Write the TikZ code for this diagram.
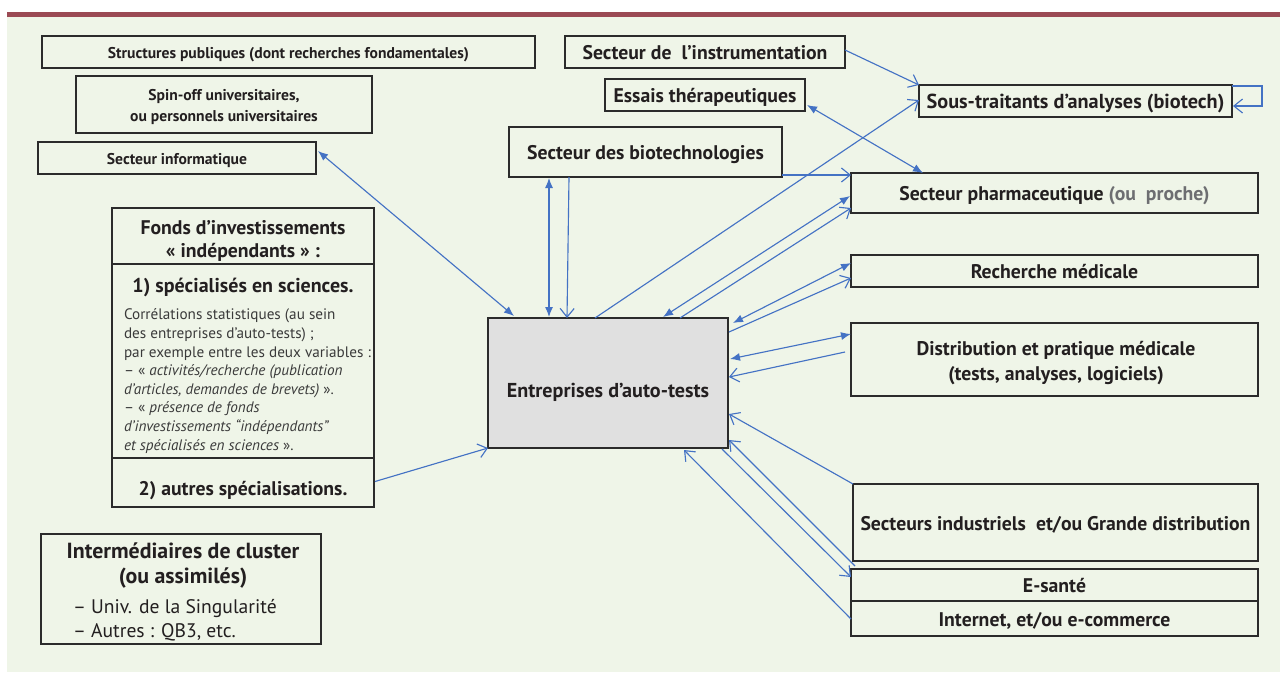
\documentclass[tikz,border=0pt]{standalone}
\usepackage{fontspec}
\setmainfont{PT Sans}
\usetikzlibrary{arrows.meta,calc}
\definecolor{bg}{HTML}{EFF5E8}
\definecolor{barc}{HTML}{9B4A54}
\definecolor{boxc}{HTML}{2B2B2B}
\definecolor{textc}{HTML}{231F20}
\definecolor{arr}{HTML}{4472C4}
\definecolor{entf}{HTML}{E0E0E0}
\definecolor{graytxt}{HTML}{6D6E71}
\definecolor{bodyc}{HTML}{3A3A3A}
\newcommand\fntsmall{\bfseries\fontsize{11.7}{14}\selectfont}
\newcommand\fntmain{\bfseries\fontsize{14.8}{18}\selectfont}
\newcommand\fntbig{\bfseries\fontsize{16.4}{19}\selectfont}
\newcommand\fntbody{\fontsize{11.4}{13.95}\selectfont}
\newcommand\fntlist{\fontsize{14.7}{18}\selectfont}
\tikzset{
  box/.style={draw=boxc, line width=1.1pt, inner sep=0pt, outer sep=0pt,
    text=textc, align=center, font=\fntmain},
  one/.style={text height=11.5pt, text depth=0pt},
  onesmall/.style={text height=9pt, text depth=0pt},
  sz/.style 2 args={minimum width=#1*0.75pt, minimum height=#2*0.75pt},
  lbl/.style={inner sep=0pt, outer sep=0pt, text=textc, align=center},
  fa/.style={draw=arr, line width=0.85pt, {Latex[length=7.5pt,width=6pt]}-{Latex[length=7.5pt,width=6pt]}},
  oa/.style={draw=arr, line width=0.85pt, -{Straight Barb[length=6.5pt,width=10.5pt]}}
}
\begin{document}
\begin{tikzpicture}[x=0.75pt,y=-0.75pt]
\useasboundingbox (0,0) rectangle (1280,675);
\fill[white] (0,0) rectangle (1280,675);
\fill[bg] (7,17) rectangle (1280,672);
\fill[barc] (7,12) rectangle (1280,17);

% left column
\node[box,onesmall,sz={493}{32},font=\fntsmall] (sp) at (288.5,52) {Structures publiques (dont recherches fondamentales)};
\node[box,sz={296}{57}] (spin) at (224,104.5) {};
\node[lbl,anchor=base,font=\fntsmall] (spin1) at (224,100) {Spin-off universitaires,};
\node[lbl,anchor=base,font=\fntsmall] (spin2) at (224,121) {ou personnels universitaires};
\node[box,onesmall,sz={278}{32},font=\fntsmall] (info) at (177,158) {Secteur informatique};

\node[box,sz={262}{56}] (fh) at (243,236) {};
\node[lbl,anchor=base,font=\fntmain] (fh1) at (243,234) {Fonds d'investissements};
\node[lbl,anchor=base,font=\fntmain] (fh2) at (243,257) {« indépendants » :};
\node[box,sz={262}{194}] (f1) at (243,361) {};
\node[box,sz={262}{49},text height=20pt,text depth=0pt] (f2) at (243,482.5) {2) autres spécialisations.};
\node[lbl,anchor=base,font=\bfseries\fontsize{15}{18}\selectfont] (f1t) at (243,292) {1) spécialisés en sciences.};
\node[lbl,anchor=north west,align=left,font=\fntbody,text=bodyc] (f1b) at (124,309) {Corrélations statistiques (au sein\\
des entreprises d'auto-tests) ;\\
par exemple entre les deux variables :\\
– « \textit{activités/recherche (publication}\\
\textit{d'articles, demandes de brevets)} ».\\
– « \textit{présence de fonds}\\
\textit{d'investissements “indépendants”}\\
\textit{et spécialisés en sciences} ».};

\node[box,sz={280}{110}] (inter) at (181,589) {};
\node[lbl,anchor=base,font=\fntbig] (inter1) at (183,558) {Intermédiaires de cluster};
\node[lbl,anchor=base,font=\fntbig] (inter2) at (183,583) {(ou assimilés)};
\node[lbl,anchor=base west,font=\fntlist] (inter3) at (73,613) {– Univ. de la Singularité};
\node[lbl,anchor=base west,font=\fntlist] (inter4) at (73,637) {– Autres : QB3, etc.};

% centre
\node[box,sz={240}{130},fill=entf,text height=21pt,text depth=0pt,font=\bfseries\fontsize{15.1}{18}\selectfont] (ent) at (608,383) {Entreprises d'auto-tests};
\node[box,one,sz={280}{32}] (instr) at (705,52) {Secteur de \ l'instrumentation};
\node[box,one,sz={200}{32}] (essais) at (705,95) {Essais thérapeutiques};
\node[box,one,sz={273}{50}] (bio) at (645.5,152) {Secteur des biotechnologies};

% right column
\node[box,one,sz={313}{32},font=\bfseries\fontsize{15.2}{18}\selectfont] (sous) at (1075.5,101) {Sous-traitants d'analyses (biotech)};
\node[box,one,sz={407}{40}] (pharma) at (1054.5,193) {Secteur pharmaceutique \textcolor{graytxt}{(ou \ proche)}};
\node[box,one,sz={407}{32}] (rech) at (1054.5,271) {Recherche médicale};
\node[box,sz={407}{73}] (distr) at (1054.5,359.5) {};
\node[lbl,anchor=base,font=\fntmain] (distr1) at (1056,355) {Distribution et pratique médicale};
\node[lbl,anchor=base,font=\fntmain] (distr2) at (1056,380) {(tests, analyses, logiciels)};
\node[box,one,sz={405}{77}] (indus) at (1055.5,522.5) {Secteurs industriels \ et/ou Grande distribution};
\node[box,one,sz={407}{32}] (esante) at (1054.5,585) {E-santé};
\node[box,one,sz={407}{35}] (internet) at (1054.5,618.5) {Internet, et/ou e-commerce};

% connectors
\draw[fa] ($(info.east)+(2,-7)$) -- ($(ent.north west)+(26,-2)$);
\draw[oa] ($(f2.east)+(1,-1)$) -- (ent.south west);
\draw[fa] ($(bio.south west)+(40,1)$) -- ($(ent.north west)+(61,-1)$);
\draw[oa] ($(bio.south west)+(60,0)$) -- ($(ent.north west)+(79,0)$);
\draw[oa] ($(ent.north west)+(107,0)$) -- ($(sous.west)+(0,-1)$);
\draw[oa] ($(instr.east)+(0,-2)$) -- (sous.north west);
\draw[fa] ($(essais.south east)+(2,-6)$) -- ($(pharma.north west)+(72,0)$);
\draw[oa] ($(bio.south east)+(0,-2)$) -- ($(pharma.north west)+(0,2)$);
\draw[fa] ($(pharma.north west)+(-1,23)$) -- ($(ent.north west)+(175,-1)$);
\draw[oa] ($(ent.north west)+(192,0)$) -- ($(pharma.south west)+(0,-5)$);
\draw[fa] ($(rech.north west)+(0,8)$) -- ($(ent.north east)+(5,5)$);
\draw[oa] ($(ent.north east)+(1,14)$) -- ($(rech.south west)+(0,-9)$);
\draw[fa] ($(distr.north west)+(0,11)$) -- ($(ent.east)+(2,-24)$);
\draw[oa] ($(distr.north west)+(-6,29)$) -- ($(ent.east)+(1,-6)$);
\draw[oa] (indus.north west) -- ($(ent.east)+(1,31)$);
\draw[oa] ($(esante.north west)+(4,-3)$) -- ($(ent.south east)+(1,-8)$);
\draw[oa] ($(ent.south east)+(-6,1)$) -- ($(esante.west)+(0,-8)$);
\draw[oa] ($(internet.west)+(0,0.5)$) -- ($(ent.south east)+(-44,2)$);
\draw[oa] ($(sous.north east)+(0,1)$) -| ++(30,20) -- ($(sous.east)+(1,5)$);
\end{tikzpicture}
\end{document}
